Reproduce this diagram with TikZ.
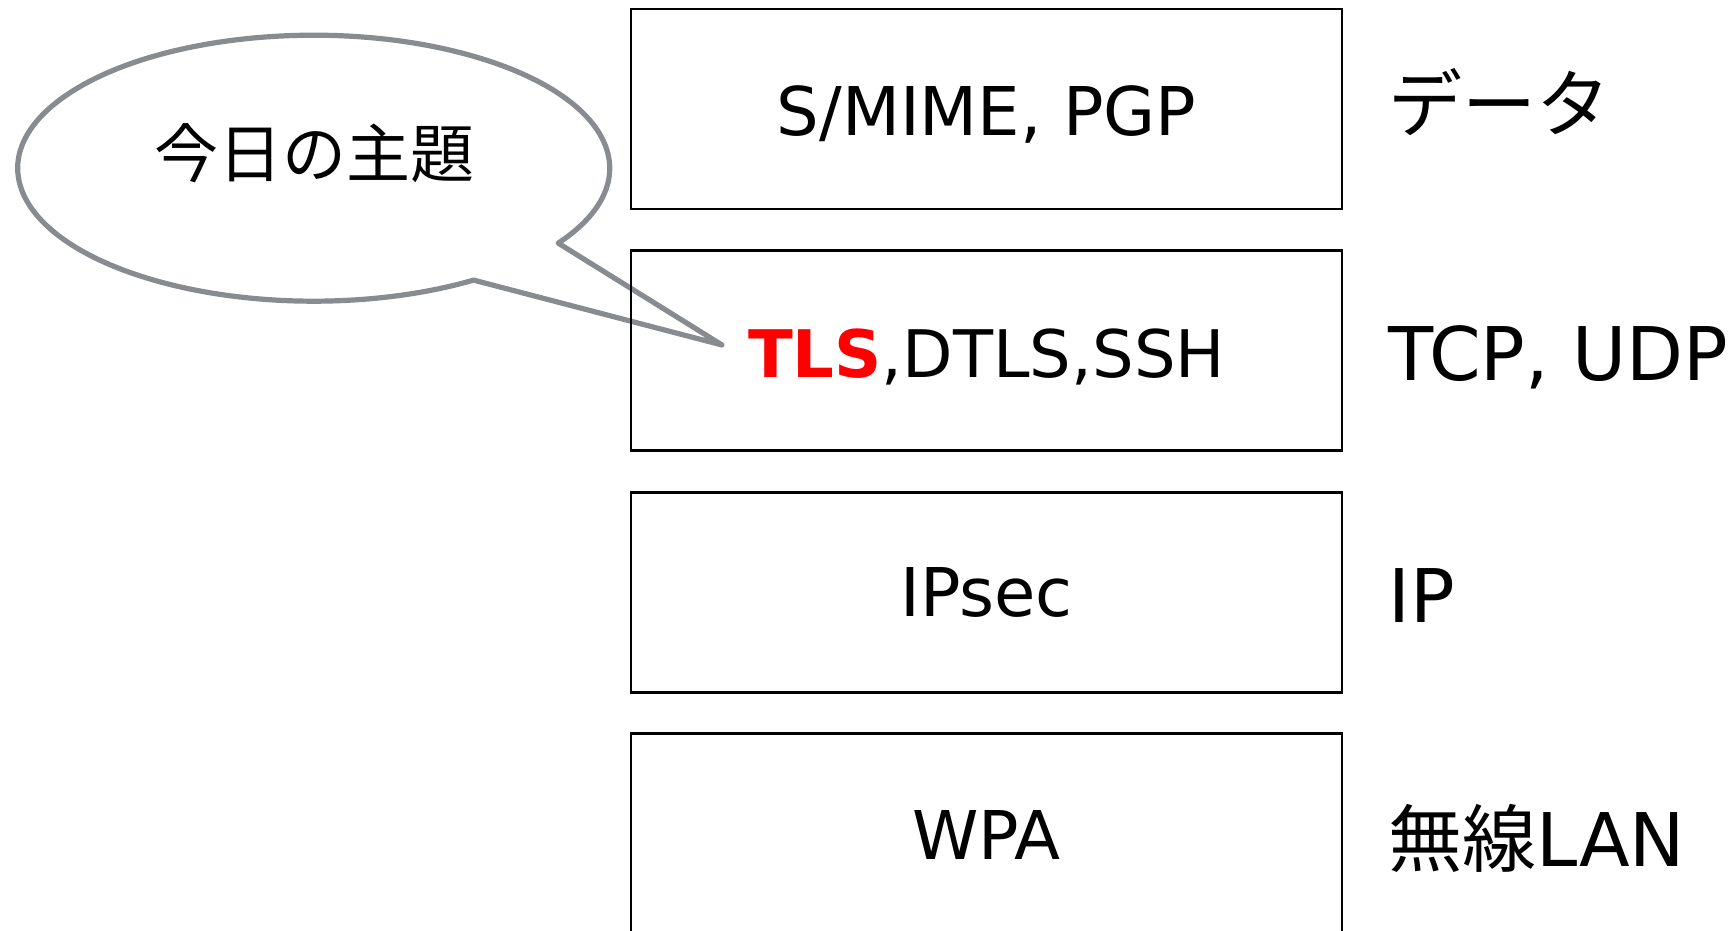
\documentclass[tikz,border=0pt]{standalone}
\usepackage{fontspec}
\usetikzlibrary{calc}
\setmainfont{DejaVu Sans}
\newfontfamily\cjk{Noto Sans CJK JP}
\definecolor{calloutgray}{HTML}{888B8F}
\definecolor{tlsred}{HTML}{FF0000}
\begin{document}
\begin{tikzpicture}[x=0.5pt,y=0.5pt,
  layerbox/.style={draw=black, line width=1.2pt, inner sep=0pt,
    minimum width=355.75pt, minimum height=100pt},
  layertext/.style={anchor=base, inner sep=0pt, font=\fontsize{33.6}{36}\selectfont},
  sidelabel/.style={anchor=base west, inner sep=0pt, font=\fontsize{37}{40}\selectfont},
  callout/.style={draw=calloutgray, line width=2.6pt, fill=white, line join=round}]
\useasboundingbox (0,0) rectangle (1735,-931);

% speech bubble pointing at TLS
\coordinate (bc) at (313.7,-168.2);
\coordinate (tip) at (722,-345);
\draw[callout] ($(bc)+(-34.3:148pt and 66.5pt)$)
  arc[start angle=-34.3, end angle=302.7, x radius=148pt, y radius=66.5pt]
  -- (tip) -- cycle;
\node[inner sep=0pt, font=\cjk\fontsize{32}{36}\selectfont] (topic) at (314,-153) {今日の主題};

% protocol stack boxes
\node[layerbox] (app)  at (986.5,-109)   {};
\node[layerbox] (tr)   at (986.5,-350.5) {};
\node[layerbox] (net)  at (986.5,-592.5) {};
\node[layerbox] (link) at (986.5,-833.6) {};

\node[layertext] (appT)  at (986.5,-135) {S/MIME, PGP};
\node[layertext, font=\fontsize{32.8}{36}\selectfont] (trT) at (986.5,-377)
  {\textcolor{tlsred}{\textbf{TLS}},DTLS,SSH};
\node[layertext] (netT)  at (986.5,-616) {IPsec};
\node[layertext] (linkT) at (986.5,-859) {WPA};

% layer names
\node[sidelabel] (appL)  at (1388,-132) {\cjk データ};
\node[sidelabel] (trL)   at (1388,-380) {TCP, UDP};
\node[sidelabel] (netL)  at (1388,-622) {IP};
\node[sidelabel] (linkL) at (1388,-866) {{\cjk 無線}LAN};
\end{tikzpicture}
\end{document}
